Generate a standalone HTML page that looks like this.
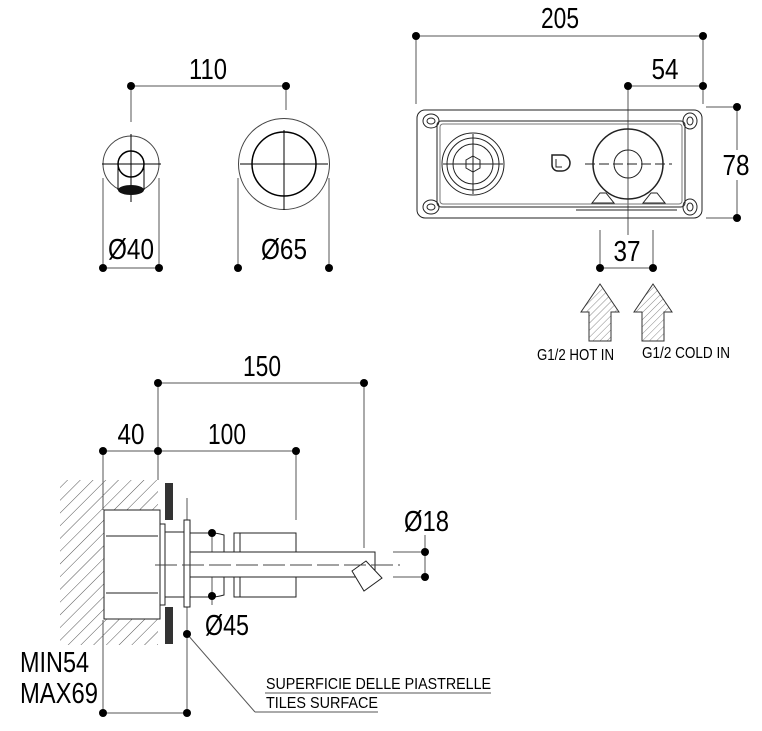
<!DOCTYPE html>
<html><head><style>
html,body{margin:0;padding:0;background:#fff;}
svg{display:block;}
text{font-family:"Liberation Sans",Arial,sans-serif;fill:#000;}
</style></head><body>
<svg width="762" height="731" viewBox="0 0 762 731" xmlns="http://www.w3.org/2000/svg">
<defs>
<pattern id="h" width="9" height="9" patternUnits="userSpaceOnUse" patternTransform="rotate(45)">
<line x1="0" y1="0" x2="0" y2="9" stroke="#555" stroke-width="1"/>
</pattern>
<pattern id="h2" width="5" height="5" patternUnits="userSpaceOnUse" patternTransform="rotate(45)">
<line x1="0" y1="0" x2="0" y2="5" stroke="#555" stroke-width="0.7"/>
</pattern>
</defs>
<g stroke="#555" stroke-width="1" fill="none">
<line x1="131" y1="86" x2="286" y2="86"/>
<line x1="131" y1="86" x2="131" y2="122"/>
<line x1="286" y1="86" x2="286" y2="110"/>
<line x1="103" y1="268" x2="159" y2="268"/>
<line x1="103" y1="178" x2="103" y2="268"/>
<line x1="159" y1="178" x2="159" y2="268"/>
<line x1="238" y1="178" x2="238" y2="268"/>
<line x1="329" y1="178" x2="329" y2="268"/>
</g>
<g stroke="#000" fill="none" stroke-width="1">
<circle cx="131" cy="164" r="28" stroke="#444"/>
<circle cx="131" cy="164" r="13" stroke-width="1.5"/>
<line x1="118" y1="164" x2="118" y2="190"/>
<line x1="144" y1="164" x2="144" y2="190"/>
<line x1="102" y1="164" x2="161" y2="164"/>
<line x1="131" y1="134" x2="131" y2="202"/>
<circle cx="284" cy="164" r="45.5" stroke="#444"/>
<circle cx="284" cy="164" r="32" stroke-width="1.5"/>
<line x1="240" y1="164" x2="328" y2="164"/>
<line x1="284" y1="130" x2="284" y2="210"/>
</g>
<ellipse cx="131" cy="190" rx="13" ry="5" fill="#111"/>
<g fill="#000">
<circle cx="131" cy="86" r="4"/><circle cx="286" cy="86" r="4"/>
<circle cx="103" cy="268" r="4"/><circle cx="159" cy="268" r="4"/>
<circle cx="238" cy="268" r="4"/><circle cx="329" cy="268" r="4"/>
</g>
<text x="208" y="79" font-size="29" text-anchor="middle" textLength="38" lengthAdjust="spacingAndGlyphs">110</text>
<text x="131" y="259" font-size="29" text-anchor="middle" textLength="46" lengthAdjust="spacingAndGlyphs">Ø40</text>
<text x="284" y="259" font-size="29" text-anchor="middle" textLength="46" lengthAdjust="spacingAndGlyphs">Ø65</text>

<g stroke="#555" fill="none">
<line x1="416" y1="36" x2="703" y2="36"/>
<line x1="416" y1="36" x2="416" y2="104"/>
<line x1="703" y1="36" x2="703" y2="104"/>
<line x1="628" y1="86" x2="703" y2="86"/>
<line x1="628" y1="86" x2="628" y2="235"/>
<line x1="706" y1="107" x2="737" y2="107"/>
<line x1="706" y1="218" x2="737" y2="218"/>
<line x1="737" y1="107" x2="737" y2="150"/>
<line x1="737" y1="180" x2="737" y2="218"/>
<line x1="600" y1="230" x2="600" y2="268"/>
<line x1="653" y1="230" x2="653" y2="268"/>
<line x1="600" y1="268" x2="653" y2="268"/>
</g>
<g stroke="#222" fill="none" stroke-width="1">
<rect x="417" y="110" width="285" height="108" rx="8"/>
<rect x="437" y="121" width="248" height="86" rx="4"/>
<rect x="440" y="124" width="242" height="80" rx="3" stroke="#777"/>
<ellipse cx="431" cy="121" rx="8" ry="7"/><ellipse cx="431" cy="121" rx="4" ry="3"/>
<ellipse cx="431" cy="207" rx="8" ry="7"/><ellipse cx="431" cy="207" rx="4" ry="3"/>
<ellipse cx="690" cy="121" rx="7" ry="8"/><ellipse cx="690" cy="121" rx="3" ry="4"/>
<ellipse cx="690" cy="207" rx="7" ry="8"/><ellipse cx="690" cy="207" rx="3" ry="4"/>
<circle cx="473" cy="164" r="31"/>
<circle cx="473" cy="164" r="26"/>
<circle cx="473" cy="164" r="20"/>
<polygon points="473,156 480,160 480,168 473,172 466,168 466,160"/>
<line x1="443" y1="164" x2="503" y2="164"/>
<line x1="473" y1="134" x2="473" y2="194"/>
<circle cx="628" cy="164" r="35" stroke-width="1.5"/>
<circle cx="628" cy="164" r="14"/>
<line x1="585" y1="164" x2="672" y2="164" stroke-dasharray="10,4"/>
<path d="M552,155 h10 a8,8 0 0 1 0,16 h-4 a6,6 0 0 1 -6,-6 z" stroke-width="1.5"/>
<path d="M556,159 v8 h6" />
<path d="M592,203 l8,-10 h6 l8,10 z"/>
<path d="M643,203 l8,-10 h6 l8,10 z"/>
<line x1="576" y1="210" x2="677" y2="210"/>
</g>
<g fill="#000">
<circle cx="416" cy="36" r="4"/><circle cx="703" cy="36" r="4"/>
<circle cx="628" cy="86" r="4"/><circle cx="703" cy="86" r="4"/>
<circle cx="737" cy="107" r="4"/><circle cx="737" cy="218" r="4"/>
<circle cx="600" cy="268" r="4"/><circle cx="653" cy="268" r="4"/>
</g>
<text x="560" y="28" font-size="29" text-anchor="middle" textLength="38" lengthAdjust="spacingAndGlyphs">205</text>
<text x="665" y="79" font-size="29" text-anchor="middle" textLength="27" lengthAdjust="spacingAndGlyphs">54</text>
<text x="736" y="175" font-size="29" text-anchor="middle" textLength="27" lengthAdjust="spacingAndGlyphs">78</text>
<text x="627" y="261" font-size="29" text-anchor="middle" textLength="27" lengthAdjust="spacingAndGlyphs">37</text>
<g stroke="#333" fill="url(#h2)">
<path d="M600,284 l19,28 h-8 v29 h-22 v-29 h-8 z"/>
<path d="M653,284 l19,28 h-8 v29 h-22 v-29 h-8 z"/>
</g>
<text x="537" y="360" font-size="16" textLength="77" lengthAdjust="spacingAndGlyphs">G1/2 HOT IN</text>
<text x="642" y="358" font-size="16" textLength="88" lengthAdjust="spacingAndGlyphs">G1/2 COLD IN</text>

<g stroke="#555" fill="none">
<line x1="158" y1="383" x2="364" y2="383"/>
<line x1="158" y1="383" x2="158" y2="480"/>
<line x1="364" y1="383" x2="364" y2="548"/>
<line x1="103" y1="451" x2="296" y2="451"/>
<line x1="103" y1="451" x2="103" y2="510"/>
<line x1="296" y1="451" x2="296" y2="520"/>
<line x1="103" y1="620" x2="103" y2="713"/>
<line x1="187" y1="498" x2="187" y2="713"/>
<line x1="103" y1="713" x2="187" y2="713"/>
<line x1="393" y1="552" x2="425" y2="552"/>
<line x1="393" y1="577" x2="425" y2="577"/>
<line x1="425" y1="535" x2="425" y2="577"/>
<line x1="212" y1="533" x2="212" y2="605"/>
<line x1="187" y1="634" x2="255" y2="712"/>
<line x1="255" y1="712" x2="378" y2="712"/>
<line x1="265" y1="693" x2="491" y2="693"/>
</g>
<path d="M60,645 L60,480 L158,480 L158,510 L104,510 L104,619 L158,619 L158,645 Z" fill="url(#h)" stroke="none"/>
<rect x="165" y="483" width="8" height="161" fill="#333"/>
<rect x="162" y="520" width="12" height="87" fill="#fff"/>
<g stroke="#222" fill="#fff">
<rect x="104" y="510" width="56" height="109"/>
<rect x="160" y="524" width="5" height="81"/>
<rect x="165" y="532" width="19" height="65"/>
<rect x="184" y="520" width="6" height="87"/>
<path d="M190,533 h22 q5,0 12,2 v60 q-7,2 -12,2 h-22 z" fill="none"/>
<rect x="234" y="533" width="62" height="64"/>
<rect x="190" y="552" width="185" height="25"/>
<path d="M352,571 l14,-10 l16,17 l-18,13 z"/>
</g>
<g stroke="#222" fill="none">
<line x1="106" y1="536" x2="158" y2="536"/>
<line x1="106" y1="593" x2="158" y2="593"/>
<line x1="240" y1="533" x2="240" y2="552"/>
<line x1="240" y1="577" x2="240" y2="597"/>
<line x1="155" y1="565" x2="400" y2="565" stroke-dasharray="22,5" stroke="#444"/>
</g>
<g fill="#000">
<circle cx="158" cy="383" r="4"/><circle cx="364" cy="383" r="4"/>
<circle cx="103" cy="451" r="4"/><circle cx="158" cy="451" r="4"/><circle cx="296" cy="451" r="4"/>
<circle cx="425" cy="552" r="4"/><circle cx="425" cy="577" r="4"/>
<circle cx="212" cy="533" r="4"/><circle cx="212" cy="596" r="4"/>
<circle cx="187" cy="634" r="4"/>
<circle cx="103" cy="713" r="4"/><circle cx="187" cy="713" r="4"/>
</g>
<text x="262" y="376" font-size="29" text-anchor="middle" textLength="38" lengthAdjust="spacingAndGlyphs">150</text>
<text x="131" y="444" font-size="29" text-anchor="middle" textLength="27" lengthAdjust="spacingAndGlyphs">40</text>
<text x="227" y="444" font-size="29" text-anchor="middle" textLength="38" lengthAdjust="spacingAndGlyphs">100</text>
<text x="404" y="531" font-size="29" textLength="45" lengthAdjust="spacingAndGlyphs">Ø18</text>
<text x="205" y="635" font-size="29" textLength="44" lengthAdjust="spacingAndGlyphs">Ø45</text>
<text x="20" y="672" font-size="29" textLength="69" lengthAdjust="spacingAndGlyphs">MIN54</text>
<text x="20" y="703" font-size="29" textLength="78" lengthAdjust="spacingAndGlyphs">MAX69</text>
<text x="266" y="689" font-size="16" textLength="225" lengthAdjust="spacingAndGlyphs">SUPERFICIE DELLE PIASTRELLE</text>
<text x="266" y="708" font-size="16" textLength="112" lengthAdjust="spacingAndGlyphs">TILES SURFACE</text>
</svg>
</body></html>
